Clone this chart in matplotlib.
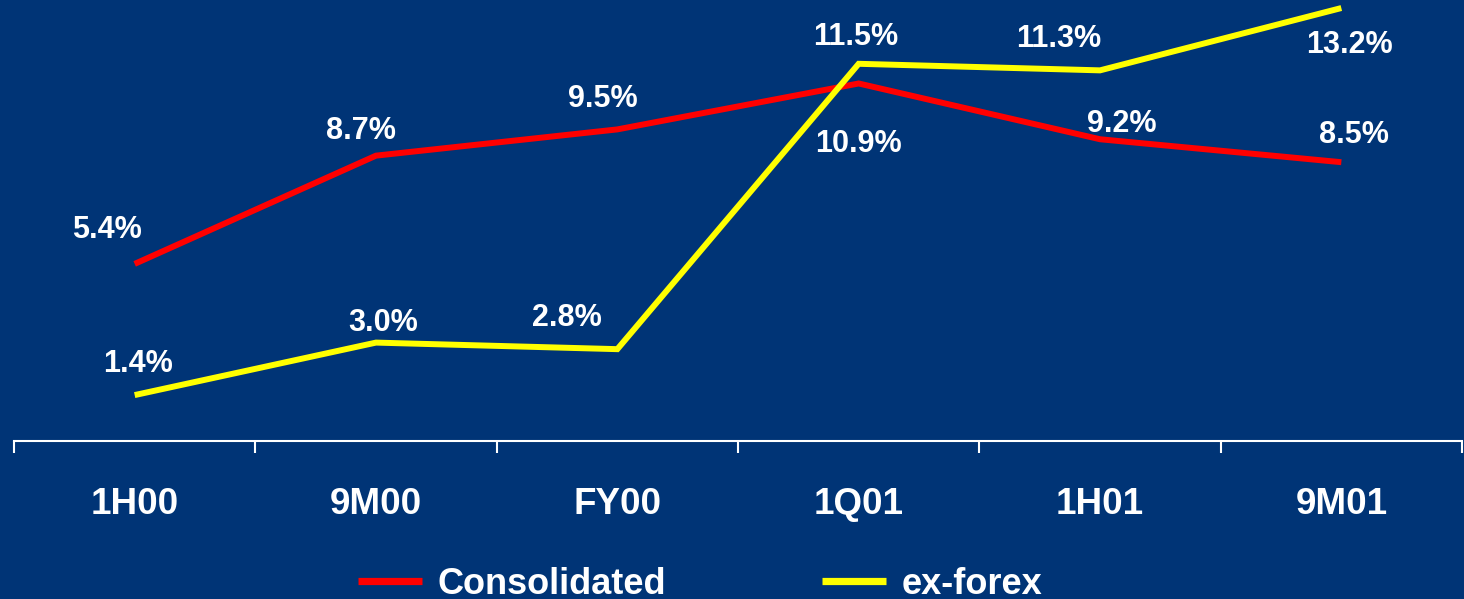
import numpy as np
import matplotlib
matplotlib.use("Agg")
import matplotlib.pyplot as plt

# chart data
periods = ["1H00", "9M00", "FY00", "1Q01", "1H01", "9M01"]
consolidated = [5.4, 8.7, 9.5, 10.9, 9.2, 8.5]
ex_forex = [1.4, 3.0, 2.8, 11.5, 11.3, 13.2]

# label offsets in pixels (dx, dy) relative to each point
cons_offsets = [(-28, 34), (-15, 25), (-15, 30), (0, -61), (22, 15), (13, 27)]
forex_offsets = [(3, 31), (7, 20), (-50, 31), (-3, 27), (-41, 31), (8, -37)]

BG = "#003476"
RED = "#ff0000"
YELLOW = "#ffff00"

plt.rcParams["font.family"] = ["Liberation Sans", "DejaVu Sans"]
plt.rcParams["font.weight"] = "bold"

fig = plt.figure(figsize=(14.64, 5.99), dpi=100, facecolor=BG)
ax = fig.add_axes([14 / 1464, 1 - 441 / 599, 1448 / 1464, 441 / 599])
ax.set_facecolor(BG)

x = np.arange(len(periods))
lw = 4.3
(l1,) = ax.plot(x, consolidated, color=RED, lw=lw, solid_joinstyle="miter",
                solid_capstyle="butt", label="Consolidated", clip_on=False)
(l2,) = ax.plot(x, ex_forex, color=YELLOW, lw=lw, solid_joinstyle="miter",
                solid_capstyle="butt", label="ex-forex", clip_on=False)

for xi, v, (dx, dy) in zip(x, consolidated, cons_offsets):
    ax.annotate(f"{v:.1f}%", (xi, v), xytext=(dx, dy), textcoords="offset pixels",
                ha="center", va="center", color="white", fontsize=22, fontweight="bold")
for xi, v, (dx, dy) in zip(x, ex_forex, forex_offsets):
    ax.annotate(f"{v:.1f}%", (xi, v), xytext=(dx, dy), textcoords="offset pixels",
                ha="center", va="center", color="white", fontsize=22, fontweight="bold")

ax.set_xlim(-0.5, len(periods) - 0.5)
ax.set_ylim(0, 441 / 32.8)

for s in ["top", "left", "right"]:
    ax.spines[s].set_visible(False)
ax.spines["bottom"].set_color("white")
ax.spines["bottom"].set_linewidth(1.5)
ax.set_yticks([])

ax.set_xticks(x)
ax.set_xticklabels(periods)
ax.set_xticks(np.arange(-0.5, len(periods)), minor=True)
ax.tick_params(axis="x", which="major", length=0, pad=33, labelsize=26.5,
               labelcolor="white")
ax.tick_params(axis="x", which="minor", length=8.6, width=1.5, color="white",
               direction="out")
for t in ax.get_xticklabels():
    t.set_fontweight("bold")

leg = fig.legend(handles=[l1, l2], loc="center", bbox_to_anchor=(700 / 1464, 1 - 584 / 599),
                 ncol=2, frameon=False, handlelength=1.78, handletextpad=0.44,
                 columnspacing=4.3, borderaxespad=0, borderpad=0, labelcolor="white",
                 prop={"weight": "bold", "size": 26})
for h in leg.get_lines():
    h.set_linewidth(5.2)
    h.set_solid_capstyle("butt")

fig.savefig("out.png", dpi=100, facecolor=BG)
